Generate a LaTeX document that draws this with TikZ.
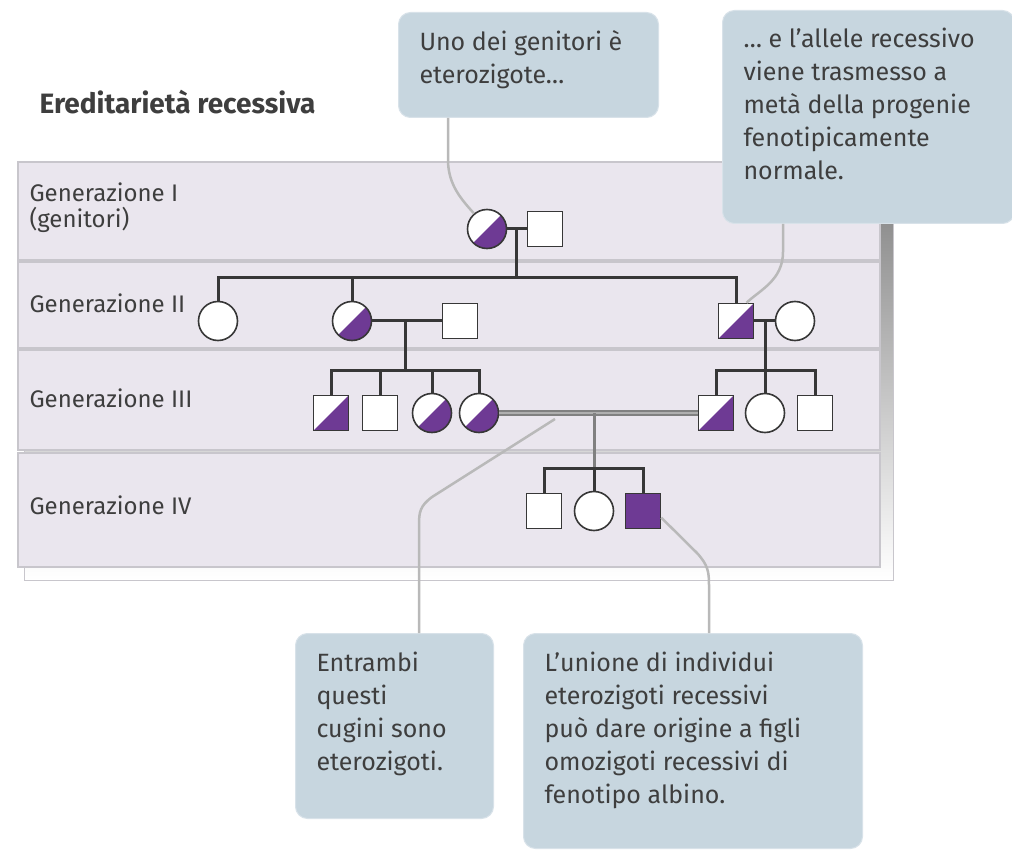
\documentclass[tikz,border=0pt]{standalone}
\usepackage{fontspec}
\setmainfont{Fira Sans}
\definecolor{purp}{RGB}{110,58,148}
\definecolor{band}{RGB}{234,230,238}
\definecolor{bandline}{RGB}{200,198,204}
\definecolor{shade}{RGB}{238,238,240}
\definecolor{boxfill}{RGB}{199,214,223}
\definecolor{pedline}{RGB}{55,55,55}
\definecolor{leadcol}{RGB}{185,185,185}
\definecolor{cousinin}{RGB}{175,175,175}
\definecolor{txt}{RGB}{62,62,62}
\tikzstyle{female}=[circle,draw=pedline,fill=white,line width=1.6pt,minimum size=39pt,inner sep=0pt]
\tikzstyle{male}=[rectangle,draw=pedline,fill=white,line width=1.6pt,minimum size=35pt,inner sep=0pt]
\tikzstyle{carrier}=[path picture={\fill[purp] (path picture bounding box.south west) -- (path picture bounding box.north east) -- (path picture bounding box.south east) -- cycle;}]
\tikzstyle{affected}=[fill=purp]
\tikzstyle{ped}=[draw=pedline,line width=3pt]
\tikzstyle{cousin}=[draw=gray,double=cousinin,double distance=2.5pt,line width=2.2pt]
\tikzstyle{leader}=[draw=leadcol,line width=2.5pt]
\tikzstyle{callout}=[rounded corners=12pt,fill=boxfill,draw=boxfill!70!white,line width=1pt,anchor=north west,inner xsep=21pt,inner ysep=18pt,text=txt,font=\fontsize{25}{33}\selectfont]
\tikzstyle{gen}=[anchor=west,align=left,text=txt,font=\fontsize{24}{26}\selectfont]
\tikzstyle{bandbox}=[fill=band,draw=bandline,line width=1.5pt]
\newcommand{\boxtext}[3]{\parbox[t][#1][t]{#2}{\raggedright #3}}

\begin{document}
\begin{tikzpicture}[x=1pt,y=-1pt]
\useasboundingbox (0,0) rectangle (1012,850);
\fill[white] (0,0) rectangle (1012,850);
% generation bands
\fill[shade,draw=bandline,line width=1pt] (24,170) rectangle (893,580);
\foreach \top/\bot in {162/260,262/348,350/450,453/567}
  \draw[bandbox] (18,\top) rectangle (880,\bot);
\node[anchor=west,text=txt,font=\fontsize{28}{32}\selectfont\bfseries] (title) at (36,102) {Ereditarietà recessiva};
\node[gen] (g1) at (26,208) {Generazione I\\(genitori)};
\node[gen] (g2) at (26,303) {Generazione II};
\node[gen] (g3) at (26,398) {Generazione III};
\node[gen] (g4) at (26,505) {Generazione IV};
% generazione I
\node[female,carrier] (f1) at (487,229) {};
\node[male] (m1) at (545,229) {};
% generazione II
\node[female] (f2) at (218,321) {};
\node[female,carrier] (f3) at (352,321) {};
\node[male] (m3) at (460,321) {};
\node[male,carrier] (m2) at (736,321) {};
\node[female] (f4) at (795,321) {};
% generazione III
\node[male,carrier] (m4) at (331,413) {};
\node[male] (m5) at (380,413) {};
\node[female,carrier] (f5) at (432,413) {};
\node[female,carrier] (f6) at (479,413) {};
\node[male,carrier] (m6) at (716,413) {};
\node[female] (f7) at (765,413) {};
\node[male] (m7) at (815,413) {};
% generazione IV
\node[male] (m8) at (544,511) {};
\node[female] (f8) at (594,511) {};
\node[male,affected] (m9) at (643,511) {};
% lines
\coordinate (sib2) at (516,278);
\coordinate (sib3a) at (405,370);
\coordinate (sib3b) at (765,370);
\coordinate (sib4) at (594,468);
\draw[ped] (f1) -- (m1);
\draw[ped] (sib2 |- f1) -- (sib2);
\draw[ped] (f2.north) -- (f2.north |- sib2) -- (m2.north |- sib2) -- (m2.north);
\draw[ped] (f3.north) -- (f3.north |- sib2);
\draw[ped] (f3) -- (m3);
\draw[ped] (sib3a |- f3) -- (sib3a);
\draw[ped] (m4.north) -- (m4.north |- sib3a) -- (f6.north |- sib3a) -- (f6.north);
\draw[ped] (m5.north) -- (m5.north |- sib3a);
\draw[ped] (f5.north) -- (f5.north |- sib3a);
\draw[ped] (m2) -- (f4);
\draw[ped] (sib3b |- m2) -- (sib3b);
\draw[ped] (m6.north) -- (m6.north |- sib3b) -- (m7.north |- sib3b) -- (m7.north);
\draw[ped] (f7.north) -- (f7.north |- sib3b);
\draw[cousin] (f6) -- (m6);
\draw[ped,draw=gray] (sib4 |- f6) -- (sib4);
\draw[ped] (m8.north) -- (m8.north |- sib4) -- (m9.north |- sib4) -- (m9.north);
\draw[ped] (f8.north) -- (f8.north |- sib4);
% callouts
\node[callout] (box1) at (398,12) {\boxtext{69pt}{218pt}{Uno dei genitori è\\eterozigote…}};
\node[callout] (box2) at (722,10) {\boxtext{177pt}{250pt}{… e l’allele recessivo\\viene trasmesso a\\metà della progenie\\fenotipicamente\\normale.}};
\node[callout] (box3) at (295,633) {\boxtext{149pt}{156pt}{Entrambi\\questi\\cugini sono\\eterozigoti.}};
\node[callout] (box4) at (523,633) {\boxtext{179pt}{297pt}{L’unione di individui\\eterozigoti recessivi\\può dare origine a figli\\omozigoti recessivi di\\fenotipo albino.}};
\coordinate (k1) at (448,160);
\coordinate (k2) at (783,252);
\coordinate (cons) at (555,419);
\coordinate (k3) at (419,525);
\coordinate (k4) at (709,585);
\draw[leader] (box1.south -| k1) -- (k1) .. controls (448,185) and (462,200) .. (f1.130);
\draw[leader] (box2.south -| k2) -- (k2) .. controls (783,280) and (760,290) .. (m2.60);
\draw[leader] (cons) -- (432,497) .. controls (420,506) and (419,512) .. (k3) -- (k3 |- box3.north);
\draw[leader] (m9.-20) -- (697,553) .. controls (708,565) and (709,572) .. (k4) -- (k4 |- box4.north);
\end{tikzpicture}
\end{document}
